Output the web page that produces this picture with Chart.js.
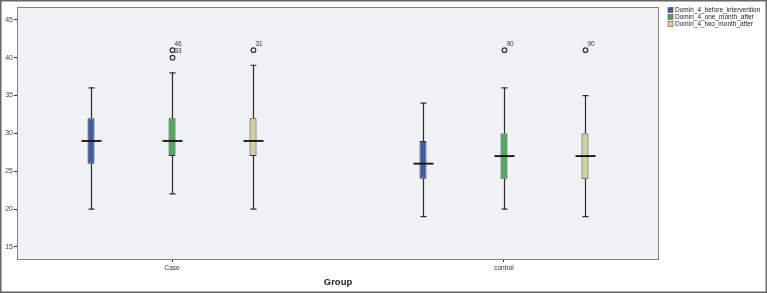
<!DOCTYPE html>
<html>
<head>
<meta charset="utf-8">
<script src="https://cdn.jsdelivr.net/npm/chart.js@4.4.1/dist/chart.umd.min.js"></script>
<style>
  html, body { margin: 0; padding: 0; background: #fff; }
  #wrap { width: 767px; height: 293px; }
</style>
</head>
<body>
<div id="wrap"><canvas id="boxChart" width="767" height="293"></canvas></div>
<script>
// Box plot data
const groups = ['Case', 'control'];
const seriesNames = ['Domin_4_before_intervention', 'Domin_4_one_month_after', 'Domin_4_two_month_after'];
const seriesColors = ['#3f5ca8', '#4bab5b', '#d5d0a0'];

// one row per series, one value per group
const whiskerLow  = [[20, 19], [22, 20], [20, 19]];
const q1          = [[26, 24], [27, 24], [27, 24]];
const medians     = [[29, 26], [29, 27], [29, 27]];
const q3          = [[32, 29], [32, 30], [32, 30]];
const whiskerHigh = [[36, 34], [38, 36], [39, 35]];

// outliers: [series][group] -> list of values and case labels
const outlierValues = [[[], []], [[41, 40], [41]], [[41], [41]]];
const outlierLabels = [[[], []], [['46', '33'], ['90']], [['31'], ['90']]];

const yTicks = [15, 20, 25, 30, 35, 40, 45];

// spacing of the three boxes inside a group (in group units)
const seriesGap = 0.244;

// Whiskers, medians and outliers on top of the floating bars
const boxExtras = {
    id: 'boxExtras',
    beforeDraw(chart) {
        const a = chart.chartArea;
        const c = chart.ctx;
        c.save();
        c.fillStyle = '#f0f1f4';
        c.fillRect(a.left, a.top, a.right - a.left, a.bottom - a.top);
        c.restore();
    },
    afterDatasetsDraw(chart) {
        const c = chart.ctx;
        const y = chart.scales.y;
        c.save();
        chart.data.datasets.forEach((ds, s) => {
            const meta = chart.getDatasetMeta(s);
            meta.data.forEach((bar, g) => {
                const x = Math.round(bar.x) + 0.5;
                const half = 3;
                c.strokeStyle = '#2b2b2b';
                c.lineWidth = 1.2;
                c.beginPath();
                c.moveTo(x, y.getPixelForValue(q3[s][g]));
                c.lineTo(x, y.getPixelForValue(whiskerHigh[s][g]));
                c.moveTo(x, y.getPixelForValue(q1[s][g]));
                c.lineTo(x, y.getPixelForValue(whiskerLow[s][g]));
                c.stroke();
                // caps
                c.beginPath();
                const yh = y.getPixelForValue(whiskerHigh[s][g]);
                const yl = y.getPixelForValue(whiskerLow[s][g]);
                c.moveTo(x - half, yh); c.lineTo(x + half, yh);
                c.moveTo(x - half, yl); c.lineTo(x + half, yl);
                c.stroke();
                // median
                const ym = y.getPixelForValue(medians[s][g]);
                c.lineWidth = 1.8;
                c.strokeStyle = '#111';
                c.beginPath();
                c.moveTo(x - 10, ym); c.lineTo(x + 10, ym);
                c.stroke();
                // outliers
                c.lineWidth = 1.2;
                c.strokeStyle = '#333';
                c.fillStyle = '#333';
                c.font = '6.5px "Liberation Sans", Arial, sans-serif';
                c.textAlign = 'left';
                c.textBaseline = 'middle';
                outlierValues[s][g].forEach((v, k) => {
                    const yo = y.getPixelForValue(v);
                    c.beginPath();
                    c.arc(x, yo, 2.3, 0, Math.PI * 2);
                    c.stroke();
                    c.fillText(outlierLabels[s][g][k], x + 2, yo - 6);
                });
            });
        });
        c.restore();
    },
    afterDraw(chart) {
        const a = chart.chartArea;
        const c = chart.ctx;
        c.save();
        // plot frame
        c.strokeStyle = '#808080';
        c.lineWidth = 1;
        c.strokeRect(a.left + 0.5, a.top + 0.5, a.right - a.left - 1, a.bottom - a.top);
        // outer frame
        c.strokeStyle = '#666';
        c.lineWidth = 1.5;
        c.strokeRect(0.75, 0.75, chart.width - 1.5, chart.height - 1.5);
        // legend
        c.font = '6.5px "Liberation Sans", Arial, sans-serif';
        c.textAlign = 'left';
        c.textBaseline = 'middle';
        seriesNames.forEach((name, i) => {
            const ly = 10 + i * 7;
            c.fillStyle = seriesColors[i];
            c.fillRect(668, ly - 2.5, 5, 5);
            c.strokeStyle = '#555';
            c.lineWidth = 0.6;
            c.strokeRect(668, ly - 2.5, 5, 5);
            c.fillStyle = '#222';
            c.fillText(name, 675, ly);
        });
        c.restore();
    }
};

const ctx = document.getElementById('boxChart').getContext('2d');
const boxChart = new Chart(ctx, {
    type: 'bar',
    data: {
        datasets: seriesNames.map((name, s) => ({
            label: name,
            data: groups.map((g, i) => ({ x: i + (s - 1) * seriesGap, y: [q1[s][i], q3[s][i]] })),
            backgroundColor: seriesColors[s],
            borderColor: '#333',
            borderWidth: 1,
            borderSkipped: false,
            grouped: false,
            maxBarThickness: 7
        }))
    },
    options: {
        responsive: false,
        animation: false,
        layout: { padding: { top: 7, right: 108, left: 0, bottom: 0 } },
        plugins: {
            legend: { display: false },
            tooltip: { enabled: false }
        },
        scales: {
            x: {
                type: 'linear',
                offset: false,
                min: -0.467,
                max: 1.467,
                grid: { offset: false, drawOnChartArea: false, drawTicks: true, tickLength: 3, color: '#333' },
                border: { display: false },
                ticks: {
                    padding: 2,
                    color: '#333',
                    font: { size: 6.5, family: '"Liberation Sans", Arial, sans-serif' },
                    callback: (v) => groups[v]
                },
                afterBuildTicks(scale) { scale.ticks = groups.map((g, i) => ({ value: i })); },
                title: {
                    display: true,
                    text: 'Group',
                    color: '#222',
                    font: { size: 9.5, weight: 'bold', family: '"Liberation Sans", Arial, sans-serif' },
                    padding: { top: 0, bottom: 5 }
                },
                afterFit(scale) { scale.height = 34; }
            },
            y: {
                min: 13.4,
                max: 46.7,
                grid: { drawOnChartArea: false, drawTicks: true, tickLength: 3, color: '#333' },
                border: { display: false },
                ticks: { padding: 1, color: '#444', font: { size: 7, family: '"Liberation Sans", Arial, sans-serif' } },
                afterBuildTicks(scale) { scale.ticks = yTicks.map(v => ({ value: v })); },
                afterFit(scale) { scale.width = 17; }
            }
        }
    },
    plugins: [boxExtras]
});
</script>
</body>
</html>
